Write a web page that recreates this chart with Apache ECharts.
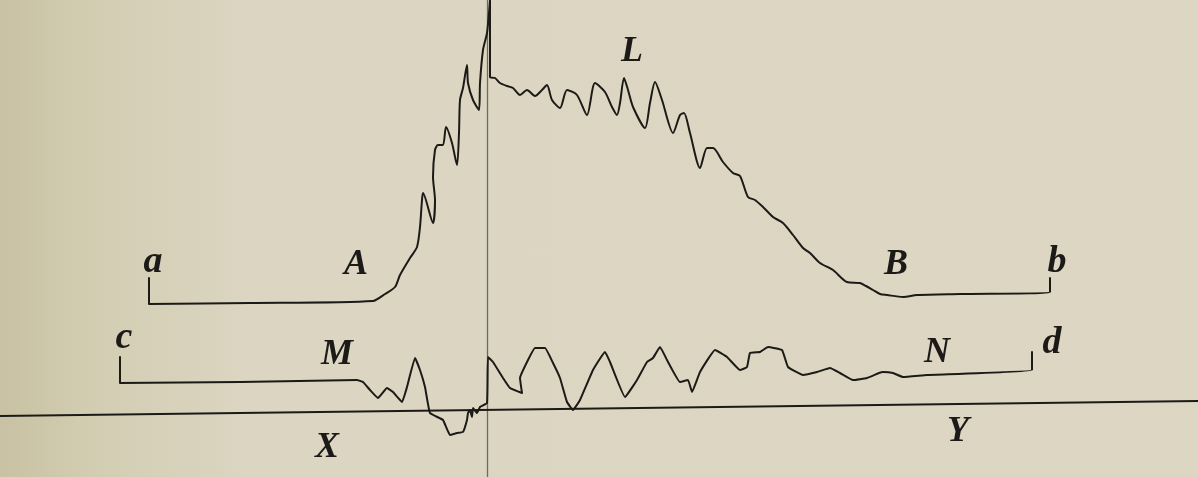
<!DOCTYPE html>
<html>
<head>
<meta charset="utf-8">
<title>Traces</title>
<script src="https://cdn.jsdelivr.net/npm/echarts@6/dist/echarts.min.js"></script>
<style>
  html, body { margin: 0; padding: 0; }
  body {
    width: 1198px; height: 477px; overflow: hidden;
    background: linear-gradient(to right, #c8c1a3 0%, #d3cdb3 8%, #dbd5c1 20%, #dcd6c3 100%);
  }
  #chart { width: 1198px; height: 477px; }
</style>
</head>
<body>
<div id="chart"></div>
<script>
// figure units: x 0..1198 left to right, y 0..477 top to bottom

// upper trace a - A - L - B - b
const upperTrace = [
  [149, 278], [149, 304], [250, 303], [373, 301], [385, 294], [395, 287], [400, 275],
  [410, 258], [417, 247], [420, 227], [422, 200], [423, 193], [433, 223], [435, 200],
  [433, 177], [435, 150], [438, 145], [443, 145], [446, 127], [452, 143], [457, 165],
  [459, 133], [460, 100], [463, 88], [467, 65], [468, 83], [473, 100], [479, 110],
  [480, 83], [483, 50], [487, 33], [489, 13], [490, 0], [490, 77], [495, 78], [500, 83],
  [507, 86], [513, 88], [520, 95], [527, 90], [535, 96], [542, 90], [547, 85], [552, 100],
  [560, 108], [567, 90], [577, 95], [587, 115], [595, 83], [605, 92], [612, 107],
  [617, 115], [620, 103], [624, 78], [628, 90], [633, 107], [645, 128], [650, 103],
  [655, 82], [662, 100], [673, 133], [680, 115], [684, 113], [690, 133], [700, 168],
  [707, 148], [713, 148], [723, 162], [733, 173], [740, 176], [748, 197], [755, 200],
  [763, 207], [773, 217], [783, 223], [793, 235], [803, 248], [810, 253], [820, 263],
  [833, 270], [847, 282], [860, 283], [866, 286], [873, 290], [880, 294], [887, 295],
  [903, 297], [917, 295], [960, 294], [1050, 292], [1050, 278]
];

// lower trace c - M - N - d
const lowerTrace = [
  [120, 357], [120, 383], [240, 382], [357, 380], [363, 382], [370, 390], [378, 398],
  [387, 388], [393, 392], [402, 402], [407, 387], [415, 358], [420, 370], [425, 387],
  [430, 413], [443, 420], [450, 435], [457, 433], [463, 432], [467, 420], [468, 413],
  [470, 410], [472, 417], [473, 408], [477, 413], [480, 407], [487, 403], [488, 357],
  [493, 362], [503, 378], [510, 388], [522, 393], [520, 378], [528, 360], [535, 348],
  [545, 348], [553, 363], [560, 378], [567, 402], [573, 410], [580, 400], [593, 370],
  [605, 352], [610, 362], [625, 397], [637, 380], [647, 362], [653, 358], [660, 347],
  [667, 360], [680, 382], [688, 380], [692, 392], [700, 372], [715, 350], [727, 357],
  [740, 370], [747, 367], [750, 353], [760, 352], [768, 347], [782, 350], [788, 367],
  [803, 375], [817, 372], [830, 368], [840, 373], [853, 380], [867, 378], [879, 373],
  [883, 372], [893, 373], [903, 377], [927, 375], [1032, 370], [1032, 352]
];

// base line X - Y and the vertical marker
const baseLine = [[0, 416], [1198, 401]];
const markerLine = [[487.5, 0], [487.5, 477]];

// lettering
const capitals = [
  ['A', 356, 265], ['L', 632, 52], ['B', 896, 265], ['M', 337, 355],
  ['N', 937, 353], ['X', 327, 448], ['Y', 958, 432]
];
const smallLetters = [
  ['a', 153, 262], ['b', 1057, 262], ['c', 124, 338], ['d', 1052, 343]
];

const chart = echarts.init(document.getElementById('chart'), null, { renderer: 'canvas' });

const ink = '#1c1a17';
const lineSeries = (data, width, color, smooth) => ({
  type: 'line',
  data,
  symbol: 'none',
  smooth: smooth || false,
  silent: true,
  lineStyle: { color, width, join: 'round', cap: 'round' }
});
const textSeries = (items, size) => ({
  type: 'scatter',
  data: items.map(t => ({ value: [t[1], t[2]], name: t[0] })),
  symbolSize: 1,
  silent: true,
  itemStyle: { opacity: 0 },
  label: {
    show: true,
    position: 'inside',
    formatter: p => p.name,
    color: ink,
    opacity: 1,
    textBorderWidth: 0,
    fontFamily: 'Liberation Serif, DejaVu Serif, serif',
    fontStyle: 'italic',
    fontWeight: 'bold',
    fontSize: size
  }
});

chart.setOption({
  backgroundColor: 'transparent',
  animation: false,
  grid: { left: 0, right: 0, top: 0, bottom: 0 },
  xAxis: { type: 'value', min: 0, max: 1198, show: false },
  yAxis: { type: 'value', min: 0, max: 477, inverse: true, show: false },
  series: [
    lineSeries(markerLine, 1.3, '#6d6a60'),
    lineSeries(baseLine, 2, ink),
    lineSeries(upperTrace, 2, ink, 0.25),
    lineSeries(lowerTrace, 2, ink, 0.1),
    textSeries(capitals, 36),
    textSeries(smallLetters, 38)
  ]
});
window.addEventListener('resize', () => chart.resize());
</script>
</body>
</html>
